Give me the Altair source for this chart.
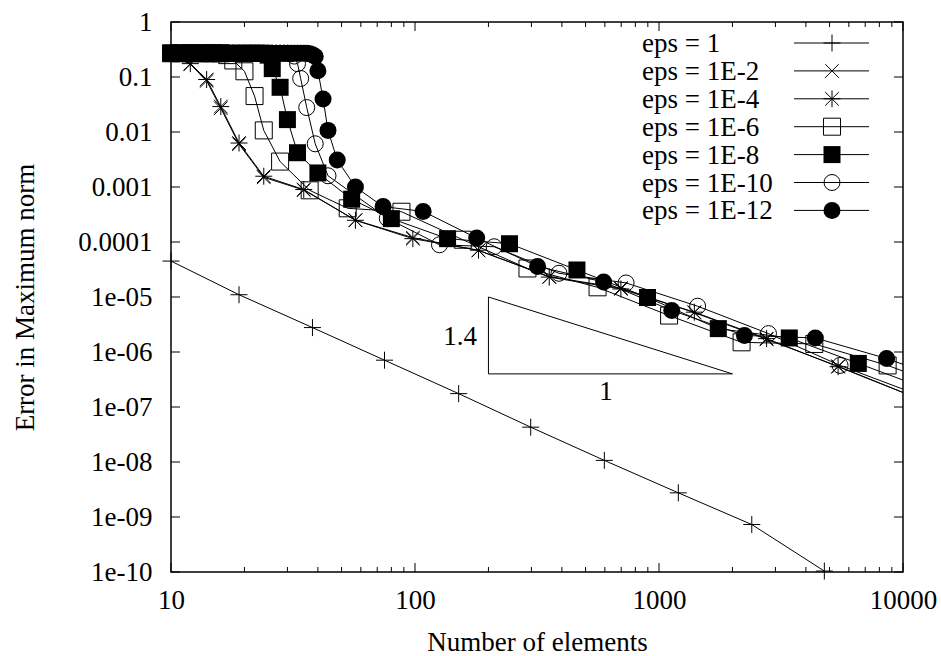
import json
import altair as alt
import pandas as pd

# ---------------- data ----------------
series_labels = ["eps = 1", "eps = 1E-2", "eps = 1E-4", "eps = 1E-6",
                 "eps = 1E-8", "eps = 1E-10", "eps = 1E-12"]

n_eps1 = [10, 19, 38, 75, 151, 298, 597, 1200, 2400, 4760]
e_eps1 = [4.5e-5, 1.1e-5, 2.78e-6, 7.1e-7, 1.75e-7, 4.3e-8, 1.07e-8, 2.75e-9,
          7.3e-10, 1.04e-10]

n_eps2 = [10, 12, 14, 16, 19, 24, 35, 57, 98, 182, 355, 698, 1396, 2760, 5420, 10800]
e_eps2 = [0.26, 0.17, 0.085, 0.027, 0.006, 0.0015, 0.00088, 0.00025, 1.2e-4,
          7.0e-5, 2.35e-5, 1.45e-5, 5.2e-6, 1.7e-6, 5.5e-7, 1.6e-7]

n_eps4 = [10, 12, 14, 16, 19, 24, 35, 57, 98, 182, 355, 698, 1396, 2760, 5420, 10800]
e_eps4 = [0.27, 0.175, 0.09, 0.029, 0.0063, 0.00157, 0.0009, 0.000248, 1.15e-4,
          7.1e-5, 2.3e-5, 1.4e-5, 5.3e-6, 1.75e-6, 5.4e-7, 1.6e-7]

n_eps6 = [10, 11, 12, 13, 14, 15, 16, 17, 18, 20, 22, 24, 28, 37, 53, 88, 157,
          289, 560, 1100, 2180, 4330, 8650, 17000]
e_eps6 = [0.27, 0.27, 0.27, 0.27, 0.27, 0.27, 0.27, 0.25, 0.2, 0.127, 0.045,
          0.0107, 0.0029, 0.00087, 0.00041, 0.000355, 1.1e-4, 3.3e-5, 1.5e-5,
          4.6e-6, 1.5e-6, 1.4e-6, 5.7e-7, 1.9e-7]

n_eps8 = [10, 11, 12, 13, 14, 15, 16, 17, 18, 19, 20, 21, 22, 23, 24, 25, 26,
          28, 30, 33, 40, 55, 80, 136, 244, 461, 897, 1750, 3420, 6560, 13000]
e_eps8 = [0.27, 0.27, 0.27, 0.27, 0.27, 0.27, 0.27, 0.27, 0.27, 0.27, 0.27,
          0.27, 0.27, 0.27, 0.27, 0.25, 0.142, 0.065, 0.0168, 0.0042, 0.0018,
          0.0006, 0.000266, 1.15e-4, 9.3e-5, 3.1e-5, 9.8e-6, 2.66e-6, 1.8e-6,
          6.2e-7, 2.0e-7]

n_eps10 = [10, 11, 12, 13, 14, 15, 16, 17, 18, 19, 20, 21, 22, 23, 24, 25, 26,
           27, 28, 29, 30, 31, 32, 33, 34, 36, 39, 44, 77, 126, 211, 389, 733,
           1440, 2810, 5520, 11000]
e_eps10 = [0.27, 0.27, 0.27, 0.27, 0.27, 0.27, 0.27, 0.27, 0.27, 0.27, 0.27,
           0.27, 0.27, 0.27, 0.27, 0.27, 0.27, 0.27, 0.27, 0.27, 0.27, 0.265,
           0.24, 0.175, 0.094, 0.0278, 0.0061, 0.0016, 0.00027, 8.9e-5, 8.2e-5,
           2.7e-5, 1.8e-5, 6.8e-6, 2.16e-6, 5.7e-7, 1.8e-7]

n_eps12 = [10, 11, 12, 13, 14, 15, 16, 17, 18, 19, 20, 21, 22, 23, 24, 25, 26,
           27, 28, 29, 30, 31, 32, 33, 34, 35, 36, 37, 38, 39, 40, 42, 44, 48,
           57, 74, 108, 179, 318, 593, 1128, 2240, 4370, 8570, 17000]
e_eps12 = [0.27, 0.27, 0.27, 0.27, 0.27, 0.27, 0.27, 0.27, 0.27, 0.27, 0.27,
           0.27, 0.27, 0.27, 0.27, 0.27, 0.27, 0.27, 0.27, 0.27, 0.27, 0.27,
           0.27, 0.27, 0.27, 0.27, 0.27, 0.265, 0.255, 0.235, 0.13, 0.04,
           0.0107, 0.0031, 0.001, 0.00044, 0.00036, 1.18e-4, 3.6e-5, 1.87e-5,
           5.7e-6, 2.0e-6, 1.8e-6, 7.6e-7, 2.6e-7]

# slope triangle and its labels
tri_n = [200, 200, 2000, 200]
tri_e = [1e-5, 4e-7, 4e-7, 1e-5]
slope_text = ["1.4", "1"]
slope_n = [153, 607]
slope_e = [1.85e-6, 1.85e-7]

# axis ticks / labels
x_major = [10, 100, 1000, 10000]
x_minor = [20, 30, 40, 50, 60, 70, 80, 90, 200, 300, 400, 500, 600, 700, 800,
           900, 2000, 3000, 4000, 5000, 6000, 7000, 8000, 9000]
y_major = [1, 1e-1, 1e-2, 1e-3, 1e-4, 1e-5, 1e-6, 1e-7, 1e-8, 1e-9, 1e-10]
y_tick_labels = ["1", "0.1", "0.01", "0.001", "0.0001", "1e-05", "1e-06",
                 "1e-07", "1e-08", "1e-09", "1e-10"]

# ---------------- styling ----------------
FONT = "Liberation Serif"
FS = 27
W, H = 732, 550
MAJ, MIN = 9, 5

PLUS = "M-1,0L1,0M0,-1L0,1"
CROSS = "M-0.8,-0.8L0.8,0.8M-0.8,0.8L0.8,-0.8"
STAR = "M-1,0L1,0M0,-1L0,1M-0.8,-0.8L0.8,0.8M-0.8,0.8L0.8,-0.8"
marker_style = [
    dict(shape=PLUS, filled=False, size=289),
    dict(shape=CROSS, filled=False, size=289),
    dict(shape=STAR, filled=False, size=289),
    dict(shape="square", filled=False, size=289),
    dict(shape="square", filled=True, size=289),
    dict(shape="circle", filled=False, size=256),
    dict(shape="circle", filled=True, size=289),
]
series_data = [(n_eps1, e_eps1), (n_eps2, e_eps2), (n_eps4, e_eps4),
               (n_eps6, e_eps6), (n_eps8, e_eps8), (n_eps10, e_eps10),
               (n_eps12, e_eps12)]

XS = alt.Scale(type="log", domain=[10, 10000], nice=False)
YS = alt.Scale(type="log", domain=[1e-10, 1], nice=False)

x_axis = alt.Axis(values=x_major, format="d", ticks=False, domain=False,
                  grid=False, labelFont=FONT, labelFontSize=FS, labelColor="black",
                  labelPadding=15, labelFlush=False, labelOverlap=False,
                  title="Number of elements", titleFont=FONT, titleFontSize=FS,
                  titleFontWeight="normal", titleColor="black", titleX=W / 2,
                  titleY=78, titleBaseline="alphabetic", titleAlign="center")
y_label_expr = json.dumps(y_tick_labels) + "[round(-log(datum.value)/LN10)]"
y_axis = alt.Axis(values=y_major, labelExpr=y_label_expr, ticks=False,
                  domain=False, grid=False, labelFont=FONT, labelFontSize=FS,
                  labelColor="black", labelPadding=19, labelFlush=False,
                  labelOverlap=False, title="Error in Maximum norm",
                  titleFont=FONT, titleFontSize=FS, titleFontWeight="normal",
                  titleColor="black", titleAngle=270, titleX=-138, titleY=H / 2,
                  titleBaseline="alphabetic", titleAlign="center")


def X(f):
    return alt.X(f, type="quantitative", scale=XS, axis=x_axis)


def Y(f):
    return alt.Y(f, type="quantitative", scale=YS, axis=y_axis)


layers = []

# inward ticks on all four sides
df_xmaj = pd.DataFrame({"v": x_major})
df_xmin = pd.DataFrame({"v": x_minor})
df_ymaj = pd.DataFrame({"v": y_major})
for df, ln in ((df_xmaj, MAJ), (df_xmin, MIN)):
    layers.append(alt.Chart(df).mark_rule(color="black", strokeWidth=1).encode(
        x=X("v"), y=alt.value(H), y2=alt.value(H - ln)))
    layers.append(alt.Chart(df).mark_rule(color="black", strokeWidth=1).encode(
        x=X("v"), y=alt.value(0), y2=alt.value(ln)))
layers.append(alt.Chart(df_ymaj).mark_rule(color="black", strokeWidth=1).encode(
    y=Y("v"), x=alt.value(0), x2=alt.value(MAJ)))
layers.append(alt.Chart(df_ymaj).mark_rule(color="black", strokeWidth=1).encode(
    y=Y("v"), x=alt.value(W), x2=alt.value(W - MAJ)))

# slope triangle
df_tri = pd.DataFrame({"N": tri_n, "err": tri_e, "k": list(range(len(tri_n)))})
layers.append(alt.Chart(df_tri).mark_line(color="black", strokeWidth=1).encode(
    x=X("N"), y=Y("err"), order="k:Q"))
df_st = pd.DataFrame({"N": slope_n, "err": slope_e, "t": slope_text})
layers.append(alt.Chart(df_st).mark_text(font=FONT, fontSize=FS, color="black",
                                         align="center", baseline="middle").encode(
    x=X("N"), y=Y("err"), text="t:N"))

# data series
for (ns, es), st in zip(series_data, marker_style):
    df = pd.DataFrame({"N": ns, "err": es})
    layers.append(alt.Chart(df).mark_line(color="black", strokeWidth=1,
                                          clip=True).encode(x=X("N"), y=Y("err")))
    layers.append(alt.Chart(df).transform_filter("datum.N <= 10000").mark_point(
        shape=st["shape"], filled=st["filled"], size=st["size"], color="black",
        strokeWidth=1, opacity=1).encode(x=X("N"), y=Y("err")))

# key (top right, inside the frame)
one = pd.DataFrame({"a": [0]})
for i, (lab, st) in enumerate(zip(series_labels, marker_style)):
    ry = 21 + 27.9 * i
    layers.append(alt.Chart(one).mark_text(text=lab, font=FONT, fontSize=FS,
                                           color="black", align="left",
                                           baseline="alphabetic").encode(
        x=alt.value(471), y=alt.value(ry + 9)))
    layers.append(alt.Chart(one).mark_rule(color="black", strokeWidth=1).encode(
        x=alt.value(623), x2=alt.value(698), y=alt.value(ry)))
    layers.append(alt.Chart(one).mark_point(
        shape=st["shape"], filled=st["filled"], size=st["size"], color="black",
        strokeWidth=1, opacity=1).encode(x=alt.value(661), y=alt.value(ry)))

chart = alt.layer(*layers).properties(
    width=W, height=H,
    autosize=alt.AutoSizeParams(type="none"),
    padding={"left": 171, "top": 22, "right": 38, "bottom": 84},
    background="white",
).configure_view(stroke="black", strokeWidth=1.5)

chart.save("out.html", embed_options={"renderer": "svg", "actions": False})
